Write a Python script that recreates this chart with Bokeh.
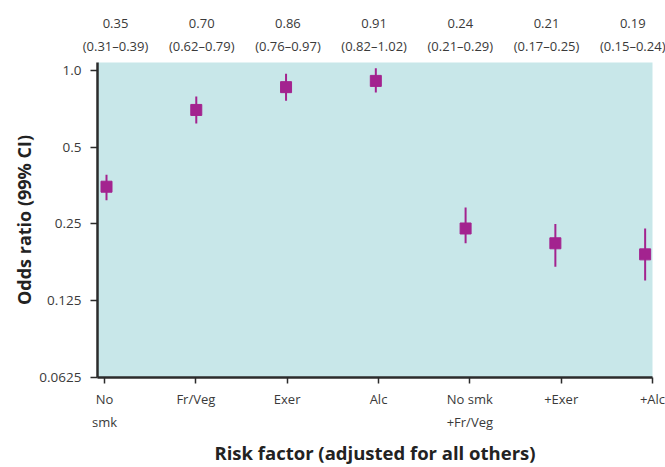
from bokeh.plotting import figure
from bokeh.models import Range1d, LinearAxis, FixedTicker
from bokeh.embed import file_html
from bokeh.resources import INLINE

# ---- data ----
labels_line1 = ["No", "Fr/Veg", "Exer", "Alc", "No smk", "+Exer", "+Alc"]
labels_line2 = ["smk", "", "", "", "+Fr/Veg", "", ""]
odds_ratio = [0.35, 0.70, 0.86, 0.91, 0.24, 0.21, 0.19]
ci_low = [0.31, 0.62, 0.76, 0.82, 0.21, 0.17, 0.15]
ci_high = [0.39, 0.79, 0.97, 1.02, 0.29, 0.25, 0.24]
y_ticks = [0.0625, 0.125, 0.25, 0.5, 1.0]
y_tick_labels = ["0.0625", "0.125", "0.25", "0.5", "1.0"]

idx = list(range(len(odds_ratio)))
value_labels = [f"{v:.2f}" for v in odds_ratio]
ci_labels = [f"({lo:.2f}\u2013{hi:.2f})" for lo, hi in zip(ci_low, ci_high)]

FONT = "Open Sans"
TXT = "#3a3a3a"
DARK = "#2b2b2b"
PURPLE = "#A3238F"

p = figure(width=665, height=467,
           x_range=Range1d(-0.1003, 6.082),
           y_range=Range1d(0.0625, 1.0744),
           y_axis_type="log", x_axis_type=None,
           output_backend="svg", toolbar_location=None,
           min_border_left=97, min_border_top=62,
           min_border_right=13, min_border_bottom=88)

p.extra_x_ranges = {"bottom": Range1d(-0.0767, 6.0),
                    "top": Range1d(-0.209, 6.229)}

p.background_fill_color = "#C8E7E9"
p.border_fill_color = "white"
p.outline_line_color = None
p.grid.visible = False

# y axis
ya = p.yaxis[0]
ya.ticker = FixedTicker(ticks=y_ticks)
ya.major_label_overrides = {t: s for t, s in zip(y_ticks, y_tick_labels)}
ya.axis_label = "Odds ratio (99% CI)"
ya.axis_label_text_font = FONT
ya.axis_label_text_font_style = "bold"
ya.axis_label_text_font_size = "18px"
ya.axis_label_text_color = "#222222"
ya.axis_label_standoff = 0
ya.major_label_text_font = FONT
ya.major_label_text_font_size = "13.5px"
ya.major_label_text_color = TXT
ya.major_label_standoff = 9
ya.axis_line_color = DARK
ya.axis_line_width = 2.5
ya.major_tick_line_color = DARK
ya.major_tick_line_width = 1.5
ya.major_tick_out = 7
ya.major_tick_in = 0
ya.minor_tick_line_color = None

# bottom axis (first line of labels)
xb1 = LinearAxis(x_range_name="bottom", ticker=FixedTicker(ticks=idx),
                 major_label_overrides={i: s for i, s in zip(idx, labels_line1)})
xb1.axis_line_color = DARK
xb1.axis_line_width = 2.5
xb1.major_tick_line_color = DARK
xb1.major_tick_line_width = 1.5
xb1.major_tick_out = 6
xb1.major_tick_in = 0
xb1.minor_tick_line_color = None
xb1.major_label_text_font = FONT
xb1.major_label_text_font_size = "13px"
xb1.major_label_text_color = TXT
xb1.major_label_standoff = 6
p.add_layout(xb1, "below")

# bottom axis (second line of labels + title)
idx2 = [i for i, s in zip(idx, labels_line2) if s]
xb2 = LinearAxis(x_range_name="bottom", ticker=FixedTicker(ticks=idx2),
                 major_label_overrides={i: s for i, s in zip(idx, labels_line2) if s})
xb2.axis_line_color = None
xb2.major_tick_line_color = None
xb2.minor_tick_line_color = None
xb2.major_tick_out = 0
xb2.major_tick_in = 0
xb2.minor_tick_out = 0
xb2.major_label_text_font = FONT
xb2.major_label_text_font_size = "13px"
xb2.major_label_text_color = TXT
xb2.major_label_standoff = 2
xb2.axis_label = "Risk factor (adjusted for all others)"
xb2.axis_label_text_font = FONT
xb2.axis_label_text_font_style = "bold"
xb2.axis_label_text_font_size = "18.5px"
xb2.axis_label_text_color = "#222222"
xb2.axis_label_standoff = 6
p.add_layout(xb2, "below")

# top axes: CI (nearest plot), then values
def top_axis(texts, standoff):
    ax = LinearAxis(x_range_name="top", ticker=FixedTicker(ticks=idx),
                    major_label_overrides={i: s for i, s in zip(idx, texts)})
    ax.axis_line_color = None
    ax.major_tick_line_color = None
    ax.minor_tick_line_color = None
    ax.major_tick_out = 0
    ax.major_tick_in = 0
    ax.minor_tick_out = 0
    ax.major_label_text_font = FONT
    ax.major_label_text_font_size = "13px"
    ax.major_label_text_color = TXT
    ax.major_label_standoff = standoff
    return ax

p.add_layout(top_axis(ci_labels, 8), "above")
p.add_layout(top_axis(value_labels, 6), "above")

# error bars and points
p.segment(x0=idx, y0=ci_low, x1=idx, y1=ci_high, line_color=PURPLE, line_width=2)
p.scatter(x=idx, y=odds_ratio, marker="square", size=11,
          fill_color=PURPLE, line_color=PURPLE)

open("out.html", "w").write(file_html(p, INLINE))
